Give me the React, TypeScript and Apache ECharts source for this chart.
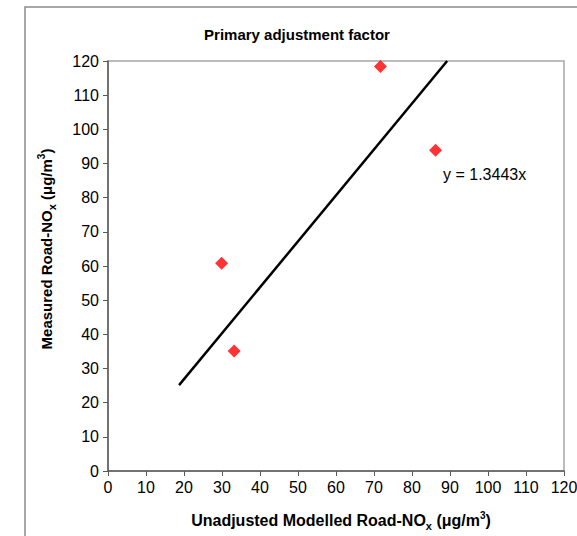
import React, { useEffect, useRef } from "react";
import * as echarts from "echarts";

const titleText = "Primary adjustment factor";
const modelled = [29.9, 33.2, 71.7, 86.2];
const measured = [60.8, 35.1, 118.4, 93.9];
const slope = 1.3443;
const trendX = [18.7, 89.25];
const equationLabel = "y = 1.3443x";
const xTicks = { min: 0, max: 120, interval: 10 };
const yTicks = { min: 0, max: 120, interval: 10 };

const FONT = "'Liberation Sans', Arial, sans-serif";

function rich(size: number) {
  return {
    b: { fontFamily: FONT, fontWeight: "bold", fontSize: size, fill: "#000", color: "#000", lineHeight: 20, verticalAlign: "bottom" },
    sub: { fontFamily: FONT, fontWeight: "bold", fontSize: 11, fill: "#000", color: "#000", lineHeight: 20, verticalAlign: "bottom", padding: [0, 0, -3, 0] },
    sup: { fontFamily: FONT, fontWeight: "bold", fontSize: 10, fill: "#000", color: "#000", lineHeight: 20, verticalAlign: "top", padding: [2, 0, 0, 0] },
  };
}

export default function App() {
  const ref = useRef<HTMLDivElement>(null);
  useEffect(() => {
    if (!ref.current) return;
    const chart = echarts.init(ref.current, null, { renderer: "svg" });
    const points = modelled.map((x, i) => [x, measured[i]]);
    const trend = trendX.map((x) => [x, slope * x]);
    chart.setOption({
      animation: false,
      backgroundColor: "#fff",
      textStyle: { fontFamily: FONT },
      title: {
        text: titleText,
        left: 292,
        top: 22,
        textAlign: "center",
        textStyle: { fontFamily: FONT, fontWeight: "bold", fontSize: 15, color: "#000" },
      },
      graphic: [
        {
          type: "rect",
          shape: { x: 25, y: 7, width: 700, height: 700 },
          style: { fill: "none", stroke: "#8c8c8c", lineWidth: 1.5 },
          silent: true,
          z: -10,
        },
        {
          type: "text",
          x: 443,
          y: 174,
          style: {
            text: equationLabel,
            fontFamily: FONT,
            fontSize: 16,
            fill: "#000",
            verticalAlign: "middle",
          },
        },
        {
          type: "text",
          x: 44,
          y: 249,
          rotation: Math.PI / 2,
          style: {
            text: "{b|Measured Road-NO}{sub|x}{b| (μg/m}{sup|3}{b|)}",
            rich: rich(15),
            align: "center",
            verticalAlign: "middle",
          },
        },
        {
          type: "text",
          x: 341,
          y: 518,
          style: {
            text: "{b|Unadjusted Modelled Road-NO}{sub|x}{b| (μg/m}{sup|3}{b|)}",
            rich: rich(16),
            align: "center",
            verticalAlign: "middle",
          },
        },
      ],
      grid: {
        left: 108, top: 61, right: 13, bottom: 65,
        show: true, borderColor: "#a6a6a6", borderWidth: 1.5,
        outerBoundsMode: "none",
        containLabel: false,
      },
      xAxis: {
        type: "value",
        min: xTicks.min,
        max: xTicks.max,
        interval: xTicks.interval,
        splitLine: { show: false },
        axisLine: { show: true, onZero: false, lineStyle: { color: "#5a5a5a", width: 1.5 } },
        axisTick: { show: true, length: 5, lineStyle: { color: "#5a5a5a" } },
        axisLabel: { fontFamily: FONT, fontSize: 16, color: "#000", margin: 8, hideOverlap: false },
      },
      yAxis: {
        type: "value",
        min: yTicks.min,
        max: yTicks.max,
        interval: yTicks.interval,
        splitLine: { show: false },
        axisLine: { show: true, onZero: false, lineStyle: { color: "#5a5a5a", width: 1.5 } },
        axisTick: { show: true, length: 5, lineStyle: { color: "#5a5a5a" } },
        axisLabel: { fontFamily: FONT, fontSize: 16, color: "#000", margin: 9 },
      },
      series: [
        {
          type: "line",
          data: trend,
          symbol: "none",
          lineStyle: { color: "#000", width: 2.5 },
          z: 2,
        },
        {
          type: "scatter",
          data: points,
          symbol: "diamond",
          symbolSize: 13,
          itemStyle: { color: "#ff0000" },
          z: 3,
        },
      ],
    });
    return () => chart.dispose();
  }, []);
  return (
    <div
      ref={ref}
      style={{ position: "fixed", left: 0, top: 0, width: 577, height: 536, background: "#fff" }}
    />
  );
}
